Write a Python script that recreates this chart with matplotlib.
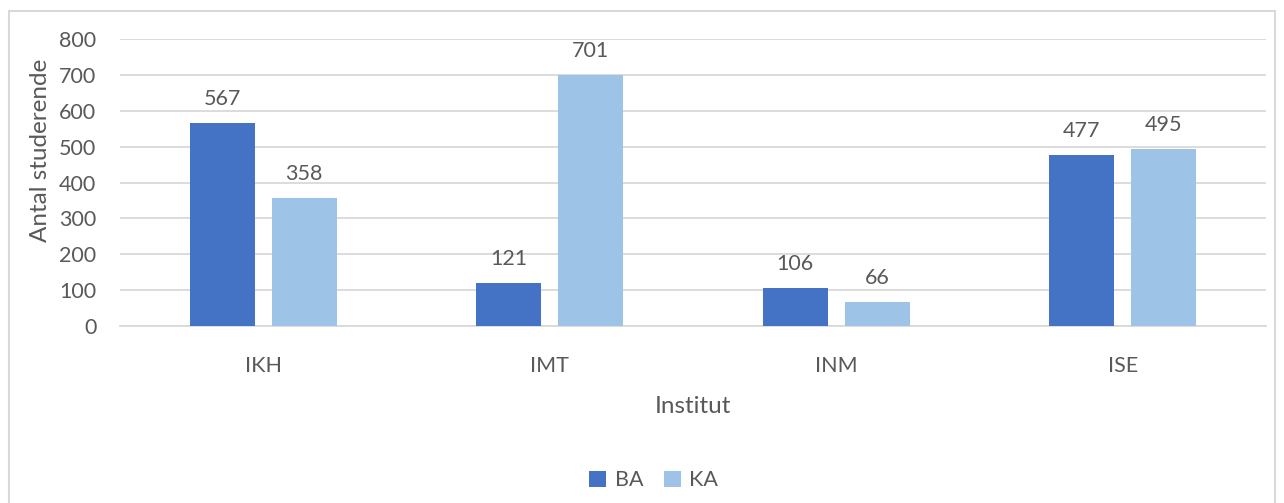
import numpy as np
import matplotlib.pyplot as plt
from matplotlib.patches import Rectangle

institutter = ['IKH', 'IMT', 'INM', 'ISE']
ba = [567, 121, 106, 477]
ka = [358, 701, 66, 495]

plt.rcParams['font.family'] = ['Lato', 'DejaVu Sans']
txt = '#595959'

fig = plt.figure(figsize=(12.84, 5.03), dpi=100)
ax = fig.add_axes([0.0935, 0.352, 0.8925, 0.570])

x = np.arange(len(institutter))
w = 0.227
b1 = ax.bar(x - 0.143, ba, w, color='#4472c4', label='BA', zorder=3)
b2 = ax.bar(x + 0.143, ka, w, color='#9dc3e6', label='KA', zorder=3)
for bars in (b1, b2):
    ax.bar_label(bars, padding=10, fontsize=15.5, color=txt)

ax.set_xlim(-0.5, 3.5)
ax.set_ylim(0, 800)
ax.set_yticks(range(0, 801, 100))
ax.grid(axis='y', color='#d9d9d9', linewidth=1.3, zorder=0)
for s in ['top', 'right', 'left']:
    ax.spines[s].set_visible(False)
ax.spines['bottom'].set_color('#d9d9d9')
ax.spines['bottom'].set_linewidth(1.3)
ax.tick_params(length=0, labelsize=15.5, labelcolor=txt)
ax.tick_params(axis='x', pad=22)
ax.tick_params(axis='y', pad=17)
ax.set_xticks(x, institutter)
ax.set_xlabel('Institut', fontsize=17.5, color=txt, labelpad=14)
ax.set_ylabel('Antal studerende', fontsize=17.5, color=txt)
ax.yaxis.set_label_coords(51 / 1284, 1 - 150 / 503, transform=fig.transFigure)

fig.legend(loc='center', bbox_to_anchor=(0.509, 0.045), ncol=2, frameon=False,
           fontsize=15.5, labelcolor=txt, handlelength=0.8, handleheight=0.8,
           columnspacing=0.95, handletextpad=0.4)

fig.patches.append(Rectangle((9 / 1284, -0.05), 1266 / 1284, 1 - 11 / 503 + 0.05,
                             transform=fig.transFigure, fill=False,
                             edgecolor='#d9d9d9', linewidth=1.5))

fig.savefig('out.png')
